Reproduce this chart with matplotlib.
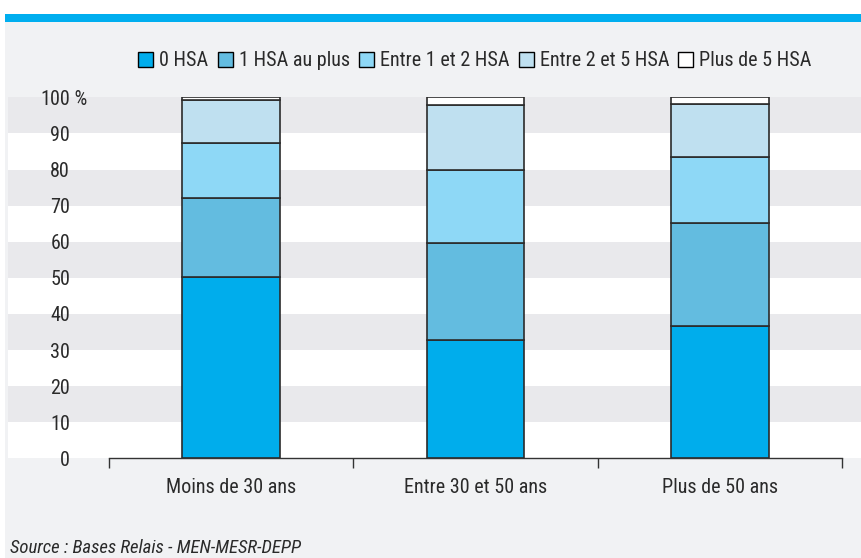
import matplotlib
matplotlib.use("Agg")
import matplotlib.pyplot as plt
from matplotlib import font_manager
from matplotlib.patches import Patch, Rectangle
import numpy as np

# police étroite si dispo
names = set(f.name for f in font_manager.fontManager.ttflist)
chosen = "DejaVu Sans"
for fam in ["Roboto Condensed", "Archivo Narrow", "DejaVu Sans"]:
    if fam in names:
        chosen = fam
        break
plt.rcParams["font.family"] = chosen

categories = ["Moins de 30 ans", "Entre 30 et 50 ans", "Plus de 50 ans"]
series = ["0 HSA", "1 HSA au plus", "Entre 1 et 2 HSA", "Entre 2 et 5 HSA", "Plus de 5 HSA"]
hsa_0 = [50.1, 32.7, 36.7]
hsa_1 = [22.1, 27.0, 28.5]
hsa_1_2 = [15.2, 20.2, 18.3]
hsa_2_5 = [11.9, 18.0, 14.6]
hsa_5 = [0.7, 2.1, 1.9]
colors = ["#00adec", "#63bce0", "#8ed8f6", "#bfe0f0", "#ffffff"]
yticks = [0, 10, 20, 30, 40, 50, 60, 70, 80, 90, 100]

W, H = 861, 558
FS = 14.5
TXT = "#2a2a2a"
fig = plt.figure(figsize=(W / 100, H / 100), dpi=100, facecolor="white")

# fond gris + bandeau bleu
fig.patches.append(Rectangle((5 / W, 0), 1 - 5 / W, (H - 22) / H, transform=fig.transFigure,
                             facecolor="#f1f2f4", edgecolor="none", zorder=-2))
fig.patches.append(Rectangle((5 / W, (H - 22) / H), 1 - 5 / W, 8 / H, transform=fig.transFigure,
                             facecolor="#00aeef", edgecolor="none", zorder=-2))

x0, x1 = 109, 842
y0, y1 = 458.3, 97.3
ax = fig.add_axes([x0 / W, (H - y0) / H, (x1 - x0) / W, (y0 - y1) / H])
ax.set_facecolor("none")
ax.set_xlim(-0.5, 2.5)
ax.set_ylim(0, 100)

# bandes horizontales
xa = (8 - x0) / (x1 - x0)
xb = (W - x0) / (x1 - x0)
for i in range(10):
    c = "#e9e9ec" if i % 2 == 1 else "white"
    ax.axhspan(yticks[i], yticks[i + 1], xmin=xa, xmax=xb, facecolor=c, edgecolor="none",
               clip_on=False, zorder=0)

x = np.arange(len(categories))
bottom = np.zeros(len(categories))
for name, vals, col in zip(series, [hsa_0, hsa_1, hsa_1_2, hsa_2_5, hsa_5], colors):
    ax.bar(x, vals, 0.4, bottom=bottom, color=col, edgecolor="#2b2b2b", linewidth=1.2,
           label=name, zorder=3)
    bottom += np.array(vals)

for s in ["top", "right", "left"]:
    ax.spines[s].set_visible(False)
ax.spines["bottom"].set_color("#333333")
ax.spines["bottom"].set_linewidth(1)

ax.set_xticks(x)
ax.set_xticklabels(categories, fontsize=FS, color=TXT)
ax.set_xticks([-0.5, 0.5, 1.5, 2.5], minor=True)
ax.tick_params(axis="x", which="major", length=0, pad=14)
ax.tick_params(axis="x", which="minor", length=7, color="#333333", width=1)

ax.set_yticks(yticks)
ax.set_yticklabels([str(v) for v in yticks], fontsize=FS, color=TXT)
ax.tick_params(axis="y", length=0, pad=28)
ax.text(-0.5 - 39 / 244.3, 100, " %", ha="left", va="center_baseline", fontsize=FS, color=TXT)

handles = [Patch(facecolor=c, edgecolor="black", linewidth=1) for c in colors]
fig.legend(handles, series, loc="center", bbox_to_anchor=(475 / W, 1 - 61 / H), ncol=5,
           frameon=False, fontsize=FS, handlelength=0.75, handleheight=0.75,
           handletextpad=0.3, columnspacing=0.45, labelcolor=TXT)

fig.text(10 / W, 1 - 548 / H, "Source : Bases Relais - MEN-MESR-DEPP", fontsize=13.5,
         style="italic", va="center", ha="left", color=TXT)

fig.savefig("out.png", dpi=100, facecolor=fig.get_facecolor())
